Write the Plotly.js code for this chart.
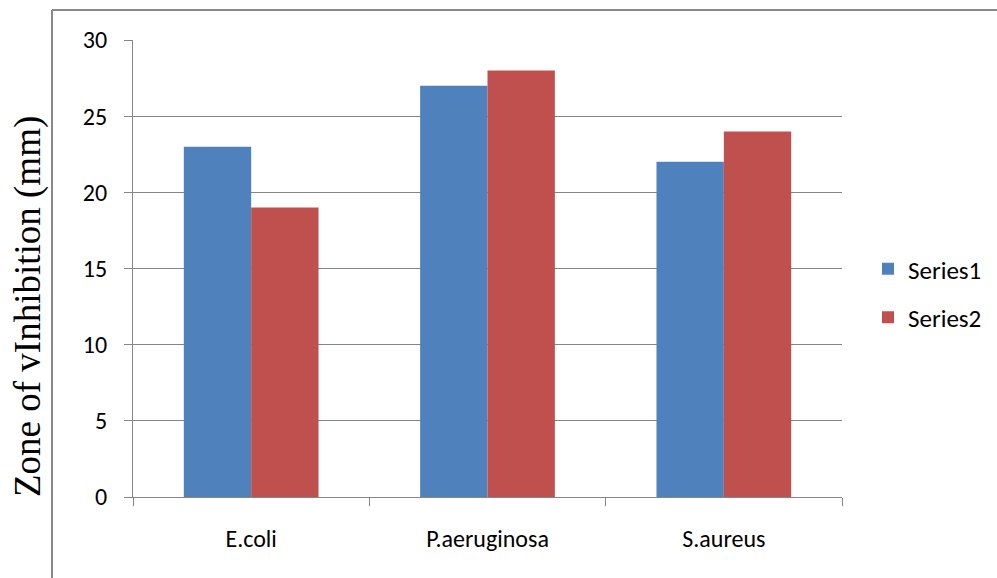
<!DOCTYPE html>
<html>
<head>
<meta charset="utf-8">
<script src="https://cdn.plot.ly/plotly-3.0.1.min.js"></script>
<style>
  html, body { margin: 0; padding: 0; background: #ffffff; }
  #chart { width: 997px; height: 578px; }
</style>
</head>
<body>
<div id="chart"></div>
<script>
// Zone of inhibition (mm) per organism, two test series
const organisms = ['E.coli', 'P.aeruginosa', 'S.aureus'];
const series1 = [23, 27, 22];
const series2 = [19, 28, 24];
const seriesNames = ['Series1', 'Series2'];
const yTicks = [0, 5, 10, 15, 20, 25, 30];

const W = 997, H = 578;
const M = { l: 133, r: 155, t: 40, b: 81, autoexpand: false };
const plotW = W - M.l - M.r;
const plotH = H - M.t - M.b;
// convert page pixels to paper coordinates for the outer frame lines
const px = x => (x - M.l) / plotW;
const py = y => (H - M.b - y) / plotH;

const sansFamily = 'Carlito, Calibri, "Liberation Sans", sans-serif';
const tickFont = { family: sansFamily, size: 24, color: '#000000' };
const legendFont = { family: sansFamily, size: 25, color: '#000000' };

const traces = [
  { type: 'bar', x: organisms, y: series1, name: seriesNames[0], legendgroup: 's1',
    marker: { color: '#4F81BD' }, hoverinfo: 'x+y' },
  { type: 'bar', x: organisms, y: series2, name: seriesNames[1], legendgroup: 's2',
    marker: { color: '#C0504D' }, hoverinfo: 'x+y' }
];

const layout = {
  width: W, height: H,
  margin: M,
  paper_bgcolor: '#ffffff',
  plot_bgcolor: '#ffffff',
  barmode: 'group',
  bargap: 0.43,
  bargroupgap: 0,
  showlegend: true,
  legend: {
    x: px(868), xanchor: 'left',
    y: py(293), yanchor: 'middle',
    font: legendFont,
    itemwidth: 30,
    traceorder: 'grouped',
    tracegroupgap: 13,
    bgcolor: 'rgba(0,0,0,0)'
  },
  xaxis: {
    type: 'category',
    showgrid: false,
    showline: true, linecolor: '#868686', linewidth: 1,
    ticks: 'outside', ticklen: 8, tickcolor: '#868686',
    tickson: 'boundaries',
    ticklabelstandoff: 20,
    tickfont: tickFont,
    zeroline: false
  },
  yaxis: {
    range: [0, 30],
    tickvals: yTicks,
    ticktext: yTicks.map(String),
    showgrid: true, gridcolor: '#868686', gridwidth: 1,
    showline: true, linecolor: '#868686', linewidth: 1,
    ticks: 'outside', ticklen: 8, tickcolor: '#868686',
    ticklabelstandoff: 12,
    tickfont: tickFont,
    zeroline: false
  },
  annotations: [{
    text: 'Zone of vInhibition (mm)',
    textangle: -90,
    xref: 'paper', yref: 'paper',
    x: px(28), y: py(307),
    xanchor: 'center', yanchor: 'middle',
    showarrow: false,
    font: { family: '"Liberation Serif", "Times New Roman", serif', size: 37, color: '#000000' }
  }],
  shapes: [
    { type: 'line', xref: 'paper', yref: 'paper',
      x0: px(52), x1: px(52), y0: py(10), y1: py(600),
      line: { color: '#898989', width: 2 } },
    { type: 'line', xref: 'paper', yref: 'paper',
      x0: px(52), x1: px(1000), y0: py(10), y1: py(10),
      line: { color: '#898989', width: 2 } }
  ]
};

Plotly.newPlot('chart', traces, layout, { displayModeBar: false, staticPlot: true });
</script>
</body>
</html>
